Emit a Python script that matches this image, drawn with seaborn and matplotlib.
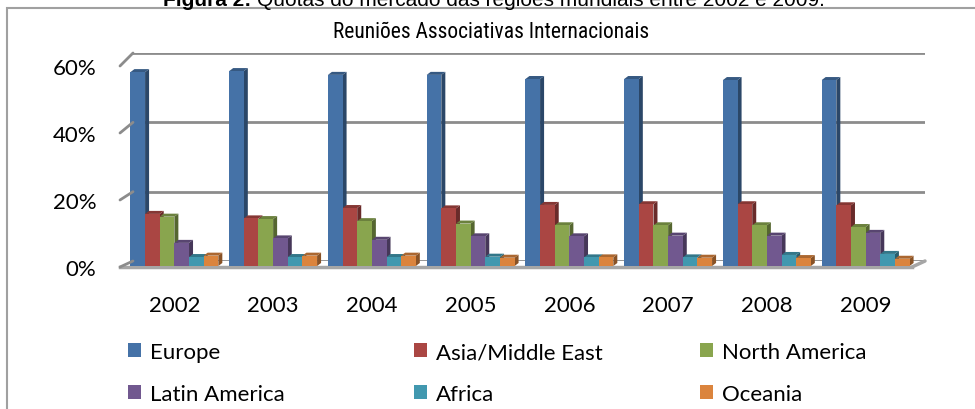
import matplotlib
matplotlib.use("Agg")
import matplotlib.pyplot as plt
from matplotlib import font_manager
from matplotlib.patches import Polygon, Patch, Rectangle, ConnectionPatch
import matplotlib.colors as mcolors
import numpy as np
import pandas as pd
import seaborn as sns

# --- data ---
years = ["2002", "2003", "2004", "2005", "2006", "2007", "2008", "2009"]
regions = ["Europe", "Asia/Middle East", "North America",
           "Latin America", "Africa", "Oceania"]
europe = [56.2, 56.5, 55.4, 55.4, 54.2, 54.2, 53.9, 53.9]
asia = [15.1, 13.8, 16.8, 16.7, 17.7, 17.9, 17.9, 17.6]
north_america = [14.3, 13.6, 13.0, 12.3, 11.8, 11.8, 11.8, 11.3]
latin_america = [6.7, 8.0, 7.6, 8.6, 8.6, 8.8, 8.8, 9.6]
africa = [2.6, 2.6, 2.6, 2.7, 2.5, 2.5, 3.2, 3.5]
oceania = [3.0, 3.0, 3.0, 2.4, 2.5, 2.4, 2.3, 2.1]
colors = ["#4572A7", "#AA4643", "#89A54E", "#71588F", "#4198AF", "#DB843D"]

series = [europe, asia, north_america, latin_america, africa, oceania]
df = pd.DataFrame({
    "year": np.repeat(years, len(regions)),
    "region": regions * len(years),
    "share": [s[i] for i in range(len(years)) for s in series],
})

# fonts: pick what exists
names = {f.name for f in font_manager.fontManager.ttflist}
narrow = next((n for n in ["Liberation Sans Narrow", "Roboto Condensed",
                           "Open Sans Condensed", "Liberation Sans"] if n in names))
calib = "Lato" if "Lato" in names else "DejaVu Sans"
arial = "Liberation Sans" if "Liberation Sans" in names else "DejaVu Sans"

W, H = 975, 410
fig = plt.figure(figsize=(W / 100, H / 100), dpi=100)
fig.patch.set_facecolor("white")
GRID = "#8c8c8c"

# back wall with gridlines
ax_back = fig.add_axes([133 / W, 1 - 262 / H, 792 / W, (262 - 54) / H])
ax_back.set_ylim(0, 60)
ax_back.set_yticks([0, 20, 40, 60])
ax_back.set_xticks([])
ax_back.tick_params(left=False, labelleft=False)
ax_back.grid(axis="y", color=GRID, lw=2)
for s in ax_back.spines.values():
    s.set_visible(False)
ax_back.set_facecolor("none")

# front plane: tick labels and floor edge
ax_lab = fig.add_axes([120 / W, 1 - 268 / H, 792 / W, (268 - 67) / H])
ax_lab.set_ylim(0, 60)
ax_lab.set_yticks([0, 20, 40, 60])
ax_lab.set_yticklabels(["0%", "20%", "40%", "60%"], fontsize=16, family=calib)
ax_lab.tick_params(axis="y", length=0, pad=17)
ax_lab.set_xticks([])
for k in ["left", "right", "top"]:
    ax_lab.spines[k].set_visible(False)
ax_lab.spines["bottom"].set_color("#a6a6a6")
ax_lab.spines["bottom"].set_linewidth(2.5)
ax_lab.set_facecolor("none")

# slanted ticks and floor side
for v in [0, 20, 40, 60]:
    con = ConnectionPatch(xyA=(0, v), coordsA=ax_lab.get_yaxis_transform(),
                          xyB=(0, v), coordsB=ax_back.get_yaxis_transform(),
                          color=GRID, lw=2)
    fig.add_artist(con)
con = ConnectionPatch(xyA=(1, 0), coordsA=ax_lab.transAxes,
                      xyB=(1, 0), coordsB=ax_back.transAxes, color="#a6a6a6", lw=2.5)
fig.add_artist(con)

# bars
ax_bar = fig.add_axes([125 / W, 1 - 267 / H, 790 / W, 207 / H])
sns.barplot(data=df, x="year", y="share", hue="region", palette=colors,
            width=0.89, saturation=1, linewidth=0, legend=False, ax=ax_bar, zorder=3)
ax_bar.set_xlim(-0.5, 7.5)
ax_bar.set_ylim(0, 60)
ax_bar.set_facecolor("none")
for s in ax_bar.spines.values():
    s.set_visible(False)
ax_bar.set_yticks([])
ax_bar.set_xlabel("")
ax_bar.set_ylabel("")
ax_bar.tick_params(axis="x", length=0, pad=21, labelsize=16)
for t in ax_bar.get_xticklabels():
    t.set_family(calib)

# fake 3D faces
ddx = 4 / (790 / 8)
ddy = 3 / (207 / 60)
for cont, c in zip(ax_bar.containers, colors):
    rgb = np.array(mcolors.to_rgb(c))
    for r in cont:
        x0, w, h = r.get_x(), r.get_width(), r.get_height()
        side = Polygon([(x0 + w, 0), (x0 + w, h), (x0 + w + ddx, h + ddy), (x0 + w + ddx, ddy)],
                       closed=True, facecolor=rgb * 0.62, edgecolor="none", zorder=2)
        top = Polygon([(x0, h), (x0 + w, h), (x0 + w + ddx, h + ddy), (x0 + ddx, h + ddy)],
                      closed=True, facecolor=rgb * 0.78, edgecolor="none", zorder=2.5)
        ax_bar.add_patch(side)
        ax_bar.add_patch(top)

# legend, three columns
handles = {reg: Patch(facecolor=c, edgecolor="none") for reg, c in zip(regions, colors)}
cols = [(128, ["Europe", "Latin America"]),
        (414, ["Asia/Middle East", "Africa"]),
        (700, ["North America", "Oceania"])]
for x, labs in cols:
    leg = fig.legend([handles[l] for l in labs], labs, loc="center left",
                     bbox_to_anchor=(x / W, 1 - 374 / H), frameon=False,
                     borderpad=0, borderaxespad=0, handlelength=0.58,
                     handleheight=0.58, handletextpad=0.4, labelspacing=0.98,
                     prop={"family": calib, "size": 16})

# titles
fig.text(491 / W, 1 - 32 / H, "Reuniões Associativas Internacionais",
         ha="center", va="center", fontsize=15.5, family=narrow)
fig.text(251 / W, 1 - 6 / H, "Figura 2:", ha="right", va="baseline",
         fontsize=15, family=arial, weight="bold")
fig.text(257 / W, 1 - 6 / H, "Quotas do mercado das regiões mundiais entre 2002 e 2009.",
         ha="left", va="baseline", fontsize=15, family=arial)

# chart border
fig.add_artist(Rectangle((7 / W, -0.1), 1.2, 1.1 - 9 / H, transform=fig.transFigure,
                         facecolor="none", edgecolor="#a0a0a0", lw=1.5))

fig.savefig("out.png", dpi=100)
